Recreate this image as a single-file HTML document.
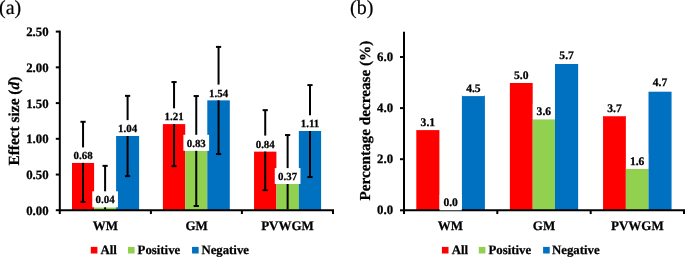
<!DOCTYPE html>
<html><head><meta charset="utf-8"><style>
html,body{margin:0;padding:0;background:#fff;}
svg{display:block;will-change:transform;} text{text-rendering:geometricPrecision;font-family:"Liberation Serif",serif;}
</style></head><body>
<svg width="685" height="257" viewBox="0 0 685 257">
<rect width="685" height="257" fill="#fff"/>
<line x1="59.80" y1="30.60" x2="59.80" y2="214.00" stroke="#000" stroke-width="2"/>
<line x1="55.80" y1="31.60" x2="59.80" y2="31.60" stroke="#000" stroke-width="2"/>
<text x="48.6" y="36.0" font-weight="bold" stroke="#000" stroke-width="0.25" font-size="12.8" text-anchor="end">2.50</text>
<line x1="55.80" y1="67.35" x2="59.80" y2="67.35" stroke="#000" stroke-width="2"/>
<text x="48.6" y="71.8" font-weight="bold" stroke="#000" stroke-width="0.25" font-size="12.8" text-anchor="end">2.00</text>
<line x1="55.80" y1="103.10" x2="59.80" y2="103.10" stroke="#000" stroke-width="2"/>
<text x="48.6" y="107.5" font-weight="bold" stroke="#000" stroke-width="0.25" font-size="12.8" text-anchor="end">1.50</text>
<line x1="55.80" y1="138.80" x2="59.80" y2="138.80" stroke="#000" stroke-width="2"/>
<text x="48.6" y="143.2" font-weight="bold" stroke="#000" stroke-width="0.25" font-size="12.8" text-anchor="end">1.00</text>
<line x1="55.80" y1="174.55" x2="59.80" y2="174.55" stroke="#000" stroke-width="2"/>
<text x="48.6" y="179.0" font-weight="bold" stroke="#000" stroke-width="0.25" font-size="12.8" text-anchor="end">0.50</text>
<line x1="55.80" y1="210.20" x2="59.80" y2="210.20" stroke="#000" stroke-width="2"/>
<text x="48.6" y="214.6" font-weight="bold" stroke="#000" stroke-width="0.25" font-size="12.8" text-anchor="end">0.00</text>
<rect x="72.00" y="162.80" width="22.10" height="47.40" fill="#FF0000"/>
<line x1="83.05" y1="121.80" x2="83.05" y2="201.90" stroke="#000" stroke-width="2"/>
<line x1="80.45" y1="121.80" x2="85.65" y2="121.80" stroke="#000" stroke-width="2"/>
<line x1="80.45" y1="201.90" x2="85.65" y2="201.90" stroke="#000" stroke-width="2"/>
<rect x="94.10" y="207.40" width="22.00" height="2.80" fill="#92D050"/>
<line x1="105.10" y1="165.85" x2="105.10" y2="209.20" stroke="#000" stroke-width="2"/>
<line x1="102.50" y1="165.85" x2="107.70" y2="165.85" stroke="#000" stroke-width="2"/>
<rect x="116.10" y="136.00" width="23.00" height="74.20" fill="#0070C0"/>
<line x1="127.60" y1="95.85" x2="127.60" y2="176.15" stroke="#000" stroke-width="2"/>
<line x1="125.00" y1="95.85" x2="130.20" y2="95.85" stroke="#000" stroke-width="2"/>
<line x1="125.00" y1="176.15" x2="130.20" y2="176.15" stroke="#000" stroke-width="2"/>
<rect x="162.90" y="124.05" width="22.30" height="86.15" fill="#FF0000"/>
<line x1="174.05" y1="82.05" x2="174.05" y2="166.15" stroke="#000" stroke-width="2"/>
<line x1="171.45" y1="82.05" x2="176.65" y2="82.05" stroke="#000" stroke-width="2"/>
<line x1="171.45" y1="166.15" x2="176.65" y2="166.15" stroke="#000" stroke-width="2"/>
<rect x="185.20" y="150.80" width="22.10" height="59.40" fill="#92D050"/>
<line x1="196.25" y1="96.05" x2="196.25" y2="206.00" stroke="#000" stroke-width="2"/>
<line x1="193.65" y1="96.05" x2="198.85" y2="96.05" stroke="#000" stroke-width="2"/>
<line x1="193.65" y1="206.00" x2="198.85" y2="206.00" stroke="#000" stroke-width="2"/>
<rect x="207.30" y="100.20" width="22.50" height="110.00" fill="#0070C0"/>
<line x1="218.55" y1="46.90" x2="218.55" y2="154.05" stroke="#000" stroke-width="2"/>
<line x1="215.95" y1="46.90" x2="221.15" y2="46.90" stroke="#000" stroke-width="2"/>
<line x1="215.95" y1="154.05" x2="221.15" y2="154.05" stroke="#000" stroke-width="2"/>
<rect x="254.05" y="151.40" width="22.35" height="58.80" fill="#FF0000"/>
<line x1="265.23" y1="110.15" x2="265.23" y2="190.15" stroke="#000" stroke-width="2"/>
<line x1="262.62" y1="110.15" x2="267.83" y2="110.15" stroke="#000" stroke-width="2"/>
<line x1="262.62" y1="190.15" x2="267.83" y2="190.15" stroke="#000" stroke-width="2"/>
<rect x="276.40" y="184.00" width="22.45" height="26.20" fill="#92D050"/>
<line x1="287.62" y1="135.05" x2="287.62" y2="209.20" stroke="#000" stroke-width="2"/>
<line x1="285.02" y1="135.05" x2="290.23" y2="135.05" stroke="#000" stroke-width="2"/>
<rect x="298.85" y="131.00" width="22.25" height="79.20" fill="#0070C0"/>
<line x1="309.98" y1="85.10" x2="309.98" y2="177.05" stroke="#000" stroke-width="2"/>
<line x1="307.38" y1="85.10" x2="312.58" y2="85.10" stroke="#000" stroke-width="2"/>
<line x1="307.38" y1="177.05" x2="312.58" y2="177.05" stroke="#000" stroke-width="2"/>
<line x1="58.80" y1="210.20" x2="334.00" y2="210.20" stroke="#000" stroke-width="2"/>
<line x1="150.90" y1="210.20" x2="150.90" y2="214.00" stroke="#000" stroke-width="2"/>
<line x1="241.90" y1="210.20" x2="241.90" y2="214.00" stroke="#000" stroke-width="2"/>
<line x1="333.00" y1="210.20" x2="333.00" y2="214.00" stroke="#000" stroke-width="2"/>
<rect x="70.20" y="147.40" width="25.7" height="15.40" fill="#fff"/>
<text x="83.05" y="159.3" font-weight="bold" stroke="#000" stroke-width="0.25" font-size="10.9" text-anchor="middle">0.68</text>
<rect x="92.25" y="191.30" width="25.7" height="16.00" fill="#fff"/>
<text x="105.10" y="203.2" font-weight="bold" stroke="#000" stroke-width="0.25" font-size="10.9" text-anchor="middle">0.04</text>
<rect x="114.75" y="120.10" width="25.7" height="15.90" fill="#fff"/>
<text x="127.60" y="132.0" font-weight="bold" stroke="#000" stroke-width="0.25" font-size="10.9" text-anchor="middle">1.04</text>
<rect x="161.20" y="108.30" width="25.7" height="15.75" fill="#fff"/>
<text x="174.05" y="120.2" font-weight="bold" stroke="#000" stroke-width="0.25" font-size="10.9" text-anchor="middle">1.21</text>
<rect x="183.40" y="134.80" width="25.7" height="16.00" fill="#fff"/>
<text x="196.25" y="146.7" font-weight="bold" stroke="#000" stroke-width="0.25" font-size="10.9" text-anchor="middle">0.83</text>
<rect x="205.70" y="84.60" width="25.7" height="15.60" fill="#fff"/>
<text x="218.55" y="96.5" font-weight="bold" stroke="#000" stroke-width="0.25" font-size="10.9" text-anchor="middle">1.54</text>
<rect x="252.38" y="135.60" width="25.7" height="15.80" fill="#fff"/>
<text x="265.23" y="147.5" font-weight="bold" stroke="#000" stroke-width="0.25" font-size="10.9" text-anchor="middle">0.84</text>
<rect x="274.77" y="168.10" width="25.7" height="15.90" fill="#fff"/>
<text x="287.62" y="180.0" font-weight="bold" stroke="#000" stroke-width="0.25" font-size="10.9" text-anchor="middle">0.37</text>
<rect x="297.12" y="115.30" width="25.7" height="15.70" fill="#fff"/>
<text x="309.98" y="127.2" font-weight="bold" stroke="#000" stroke-width="0.25" font-size="10.9" text-anchor="middle">1.11</text>
<text x="105.3" y="230" font-weight="bold" stroke="#000" stroke-width="0.25" font-size="13" text-anchor="middle">WM</text>
<text x="196.6" y="230" font-weight="bold" stroke="#000" stroke-width="0.25" font-size="13" text-anchor="middle">GM</text>
<text x="287.5" y="230" font-weight="bold" stroke="#000" stroke-width="0.25" font-size="13" text-anchor="middle">PVWGM</text>
<text transform="translate(19.1,121.1) rotate(-90)" font-weight="bold" stroke="#000" stroke-width="0.25" font-size="15.4" text-anchor="middle">Effect size (<tspan font-style="italic">d</tspan>)</text>
<text x="-1" y="14" font-size="20" stroke="#000" stroke-width="0.2">(a)</text>
<line x1="404.00" y1="31.80" x2="404.00" y2="214.00" stroke="#000" stroke-width="2"/>
<line x1="400.00" y1="57.00" x2="404.00" y2="57.00" stroke="#000" stroke-width="2"/>
<text x="393.1" y="60.9" font-weight="bold" stroke="#000" stroke-width="0.25" font-size="12.8" text-anchor="end">6.0</text>
<line x1="400.00" y1="108.10" x2="404.00" y2="108.10" stroke="#000" stroke-width="2"/>
<text x="393.1" y="112.0" font-weight="bold" stroke="#000" stroke-width="0.25" font-size="12.8" text-anchor="end">4.0</text>
<line x1="400.00" y1="159.20" x2="404.00" y2="159.20" stroke="#000" stroke-width="2"/>
<text x="393.1" y="163.1" font-weight="bold" stroke="#000" stroke-width="0.25" font-size="12.8" text-anchor="end">2.0</text>
<line x1="400.00" y1="210.30" x2="404.00" y2="210.30" stroke="#000" stroke-width="2"/>
<text x="393.1" y="214.2" font-weight="bold" stroke="#000" stroke-width="0.25" font-size="12.8" text-anchor="end">0.0</text>
<rect x="416.30" y="130.10" width="23.10" height="80.20" fill="#FF0000"/>
<rect x="461.90" y="95.40" width="23.00" height="114.90" fill="#0070C0"/>
<rect x="509.85" y="83.00" width="22.85" height="127.30" fill="#FF0000"/>
<rect x="532.70" y="119.20" width="22.30" height="91.10" fill="#92D050"/>
<rect x="555.00" y="64.00" width="23.15" height="146.30" fill="#0070C0"/>
<rect x="603.05" y="116.00" width="22.80" height="94.30" fill="#FF0000"/>
<rect x="625.85" y="168.70" width="22.65" height="41.60" fill="#92D050"/>
<rect x="648.50" y="91.70" width="23.05" height="118.60" fill="#0070C0"/>
<line x1="403.00" y1="210.30" x2="685.00" y2="210.30" stroke="#000" stroke-width="2"/>
<line x1="497.30" y1="210.30" x2="497.30" y2="214.00" stroke="#000" stroke-width="2"/>
<line x1="590.70" y1="210.30" x2="590.70" y2="214.00" stroke="#000" stroke-width="2"/>
<line x1="684.00" y1="210.30" x2="684.00" y2="214.00" stroke="#000" stroke-width="2"/>
<rect x="416.80" y="114.60" width="22.1" height="15.4" fill="#fff"/>
<text x="427.85" y="125.9" font-weight="bold" stroke="#000" stroke-width="0.25" font-size="11.6" text-anchor="middle">3.1</text>
<rect x="439.60" y="194.90" width="22.1" height="15.4" fill="#fff"/>
<text x="450.65" y="206.2" font-weight="bold" stroke="#000" stroke-width="0.25" font-size="11.6" text-anchor="middle">0.0</text>
<rect x="462.35" y="80.70" width="22.1" height="15.4" fill="#fff"/>
<text x="473.40" y="92.0" font-weight="bold" stroke="#000" stroke-width="0.25" font-size="11.6" text-anchor="middle">4.5</text>
<rect x="510.23" y="67.40" width="22.1" height="15.4" fill="#fff"/>
<text x="521.28" y="78.7" font-weight="bold" stroke="#000" stroke-width="0.25" font-size="11.6" text-anchor="middle">5.0</text>
<rect x="532.80" y="103.90" width="22.1" height="15.4" fill="#fff"/>
<text x="543.85" y="115.2" font-weight="bold" stroke="#000" stroke-width="0.25" font-size="11.6" text-anchor="middle">3.6</text>
<rect x="555.53" y="47.70" width="22.1" height="15.4" fill="#fff"/>
<text x="566.58" y="59.0" font-weight="bold" stroke="#000" stroke-width="0.25" font-size="11.6" text-anchor="middle">5.7</text>
<rect x="603.40" y="100.85" width="22.1" height="15.4" fill="#fff"/>
<text x="614.45" y="112.2" font-weight="bold" stroke="#000" stroke-width="0.25" font-size="11.6" text-anchor="middle">3.7</text>
<rect x="626.12" y="153.40" width="22.1" height="15.4" fill="#fff"/>
<text x="637.17" y="164.7" font-weight="bold" stroke="#000" stroke-width="0.25" font-size="11.6" text-anchor="middle">1.6</text>
<rect x="648.98" y="75.05" width="22.1" height="15.4" fill="#fff"/>
<text x="660.02" y="86.3" font-weight="bold" stroke="#000" stroke-width="0.25" font-size="11.6" text-anchor="middle">4.7</text>
<text x="450.3" y="230" font-weight="bold" stroke="#000" stroke-width="0.25" font-size="13" text-anchor="middle">WM</text>
<text x="544.0" y="230" font-weight="bold" stroke="#000" stroke-width="0.25" font-size="13" text-anchor="middle">GM</text>
<text x="637.3" y="230" font-weight="bold" stroke="#000" stroke-width="0.25" font-size="13" text-anchor="middle">PVWGM</text>
<text transform="translate(369.6,120.6) rotate(-90)" font-weight="bold" stroke="#000" stroke-width="0.25" font-size="15.2" text-anchor="middle">Percentage decrease (%)</text>
<text x="350" y="14" font-size="20" stroke="#000" stroke-width="0.2">(b)</text>
<rect x="90.80" y="246.9" width="6.6" height="6.6" fill="#FF0000"/>
<text x="100.40" y="254" font-weight="bold" stroke="#000" stroke-width="0.25" font-size="12.8">All</text>
<rect x="128.00" y="246.9" width="6.6" height="6.6" fill="#92D050"/>
<text x="137.60" y="254" font-weight="bold" stroke="#000" stroke-width="0.25" font-size="12.8">Positive</text>
<rect x="192.05" y="246.9" width="6.6" height="6.6" fill="#0070C0"/>
<text x="201.40" y="254" font-weight="bold" stroke="#000" stroke-width="0.25" font-size="12.8">Negative</text>
<rect x="441.90" y="246.9" width="6.6" height="6.6" fill="#FF0000"/>
<text x="451.70" y="254" font-weight="bold" stroke="#000" stroke-width="0.25" font-size="12.8">All</text>
<rect x="478.80" y="246.9" width="6.6" height="6.6" fill="#92D050"/>
<text x="488.50" y="254" font-weight="bold" stroke="#000" stroke-width="0.25" font-size="12.8">Positive</text>
<rect x="543.10" y="246.9" width="6.6" height="6.6" fill="#0070C0"/>
<text x="552.00" y="254" font-weight="bold" stroke="#000" stroke-width="0.25" font-size="12.8">Negative</text>
</svg>
</body></html>
